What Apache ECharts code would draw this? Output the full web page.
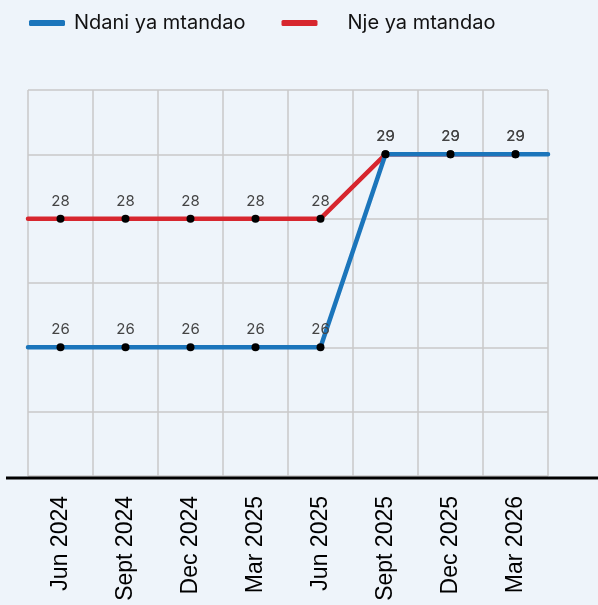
<!DOCTYPE html>
<html>
<head>
<meta charset="utf-8">
<script src="https://cdn.jsdelivr.net/npm/echarts@6/dist/echarts.min.js"></script>
<style>
  html, body { margin: 0; padding: 0; background: #eef4fa; }
  #chart { width: 598px; height: 605px; }
</style>
</head>
<body>
<div id="chart"></div>
<script>
const categories = ['Jun 2024', 'Sept 2024', 'Dec 2024', 'Mar 2025', 'Jun 2025', 'Sept 2025', 'Dec 2025', 'Mar 2026']
const ndaniValues = [26, 26, 26, 26, 26, 29, 29, 29]
const njeValues = [28, 28, 28, 28, 28, 29, 29, 29]
const seriesNames = ['Ndani ya mtandao', 'Nje ya mtandao']

const BLUE = '#1b75bb'
const RED = '#d7262e'

// points sit in the middle of each band, the line runs on to the grid edges
function buildData(values, extendLeft, extendRight) {
  const n = values.length
  const out = values.map((v, i) => [i + 0.5, v])
  if (extendLeft) out.unshift({ value: [0, values[0]], symbol: 'none', label: { show: false } })
  if (extendRight) out.push({ value: [n, values[n - 1]], symbol: 'none', label: { show: false } })
  return out
}

function lineSeries(name, values, color, z, extendRight) {
  return {
    name: name,
    type: 'line',
    xAxisIndex: 1,
    data: buildData(values, true, extendRight),
    z: z,
    symbol: 'circle',
    symbolSize: 8,
    showAllSymbol: true,
    lineStyle: { color: color, width: 4.5, cap: 'round' },
    itemStyle: { color: '#000' },
    label: {
      show: true,
      position: 'top',
      distance: 6,
      color: '#444',
      fontSize: 15,
      fontFamily: 'Inter',
    },
    emphasis: { disabled: true },
  }
}

const chart = echarts.init(document.getElementById('chart'))
chart.setOption({
  backgroundColor: '#eef4fa',
  animation: false,
  legend: {
    top: 8,
    left: 24,
    itemGap: 36,
    itemWidth: 36,
    itemHeight: 6,
    textStyle: { fontSize: 20, fontFamily: 'Inter', color: '#111', padding: [0, 0, 0, 4] },
    data: [
      { name: seriesNames[0], icon: 'roundRect', itemStyle: { color: BLUE } },
      {
        name: seriesNames[1],
        icon: 'roundRect',
        itemStyle: { color: RED },
        textStyle: { padding: [0, 0, 0, 25] },
      },
    ],
  },
  grid: {
    left: 28,
    right: 50,
    top: 90,
    bottom: 129,
  },
  xAxis: [
    {
      type: 'category',
      data: categories,
      boundaryGap: true,
      axisLine: { show: false },
      axisTick: { show: false },
      splitLine: { show: true, lineStyle: { color: '#c8c8c8', width: 1.5 } },
      axisLabel: {
        rotate: 90,
        margin: 20,
        fontSize: 23,
        fontFamily: 'Liberation Sans',
        color: '#000',
        interval: 0,
      },
    },
    {
      type: 'value',
      min: 0,
      max: categories.length,
      show: false,
    },
  ],
  yAxis: {
    type: 'value',
    min: 24,
    max: 30,
    interval: 1,
    axisLabel: { show: false },
    axisLine: { show: false },
    axisTick: { show: false },
    splitLine: { show: true, lineStyle: { color: '#c8c8c8', width: 1.5 } },
  },
  graphic: [
    {
      type: 'line',
      shape: { x1: 6, y1: 478, x2: 598, y2: 478 },
      style: { stroke: '#000', lineWidth: 3 },
      z: 10,
    },
  ],
  series: [
    lineSeries(seriesNames[1], njeValues, RED, 2, false),
    lineSeries(seriesNames[0], ndaniValues, BLUE, 3, true),
  ],
})
</script>
</body>
</html>
